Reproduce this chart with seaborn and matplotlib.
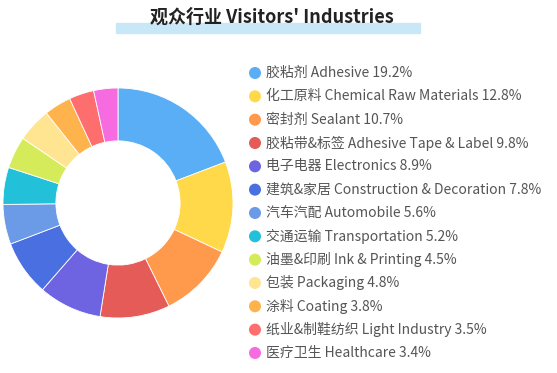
import matplotlib
matplotlib.use("Agg")
import matplotlib.pyplot as plt
import seaborn as sns

# Datos del gráfico
labels = [
    "胶粘剂 Adhesive", "化工原料 Chemical Raw Materials", "密封剂 Sealant",
    "胶粘带&标签 Adhesive Tape & Label", "电子电器 Electronics",
    "建筑&家居 Construction & Decoration", "汽车汽配 Automobile",
    "交通运输 Transportation", "油墨&印刷 Ink & Printing", "包装 Packaging",
    "涂料 Coating", "纸业&制鞋纺织 Light Industry", "医疗卫生 Healthcare",
]
values = [19.2, 12.8, 10.7, 9.8, 8.9, 7.8, 5.6, 5.2, 4.5, 4.8, 3.8, 3.5, 3.4]
colors = ["#5AAEF5", "#FFD94A", "#FF9A4D", "#E55B57", "#6E63E0", "#4A6FE0",
          "#6B9AE6", "#22C1D9", "#D6EB5A", "#FFE591", "#FFB34D", "#FF6E6E",
          "#F76BE0"]
title = "观众行业 Visitors' Industries"

sns.set_theme(style="white")
plt.rcParams["font.family"] = ["Noto Sans CJK SC", "DejaVu Sans"]
palette = sns.color_palette(colors)

W, H = 557, 373
fig = plt.figure(figsize=(W / 100, H / 100), dpi=100)

# Dona
cx, cy, r = 118, 203, 115
ax = fig.add_axes([(cx - r) / W, (H - cy - r) / H, 2 * r / W, 2 * r / H])
ax.pie(values, colors=palette, startangle=90, counterclock=False,
       wedgeprops=dict(width=0.46, edgecolor="white", linewidth=0.6))
ax.set_xlim(-1, 1)
ax.set_ylim(-1, 1)
ax.set_aspect("equal")
ax.axis("off")

# Título con barra azul clara
fig.patches.append(plt.Rectangle((116 / W, 1 - 33 / H), 304 / W, 10 / H,
                                 transform=fig.transFigure, color="#C9E8F7",
                                 zorder=0))
fig.text(272 / W, 1 - 17 / H, title, ha="center", va="center", fontsize=13,
         fontweight="bold", color="#222222", zorder=2)

# Leyenda
lax = fig.add_axes([0, 0, 1, 1])
lax.set_xlim(0, W)
lax.set_ylim(H, 0)
lax.axis("off")
y0, dy = 73, 23.33
for i, (lab, v) in enumerate(zip(labels, values)):
    y = y0 + i * dy
    lax.scatter([255], [y], s=75, color=palette[i], edgecolor="none")
    lax.text(266, y, f"{lab} {v}%", va="center", ha="left", fontsize=10,
             color="#555555")

fig.savefig("out.png", dpi=100)
